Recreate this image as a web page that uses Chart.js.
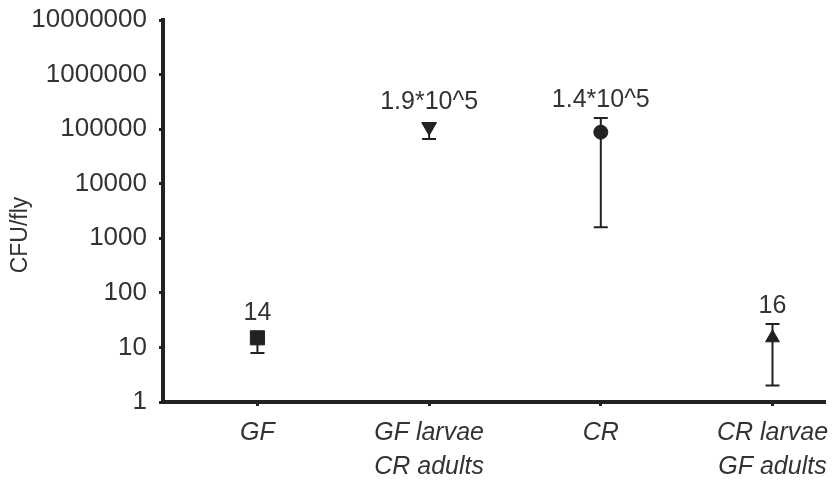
<!DOCTYPE html>
<html>
<head>
<meta charset="utf-8">
<script src="https://cdn.jsdelivr.net/npm/chart.js@4.4.1/dist/chart.umd.min.js"></script>
<style>
  html, body { margin: 0; padding: 0; background: #fff; }
  #wrap { width: 835px; height: 486px; }
</style>
</head>
<body>
<div id="wrap"><canvas id="chart" width="835" height="486"></canvas></div>
<script>
// data
const categories = [['GF'], ['GF larvae', 'CR adults'], ['CR'], ['CR larvae', 'GF adults']];
const means  = [15, 110000, 88000, 15];
const lowers = [7.9, 66000, 1600, 2];
const uppers = [19, 130000, 160000, 27];
const valueLabels = ['14', '1.9*10^5', '1.4*10^5', '16'];
const markers = ['rect', 'triangle', 'circle', 'triangle'];
const markerTurn = [0, 180, 0, 0];
const yTicks = [1, 10, 100, 1000, 10000, 100000, 1000000, 10000000];
const yTitle = 'CFU/fly';

const ink = '#222';
const textInk = '#333';
const fontFam = '"Liberation Sans", Arial, sans-serif';

// error bars behind the markers, value labels and y title on top
const errorBars = {
    id: 'errorBars',
    beforeDatasetsDraw(chart) {
        const ctx = chart.ctx;
        const xs = chart.scales.x, ys = chart.scales.y;
        ctx.save();
        ctx.strokeStyle = ink;
        ctx.lineWidth = 2;
        means.forEach((m, i) => {
            const x = xs.getPixelForValue(i);
            const yl = ys.getPixelForValue(lowers[i]);
            const yu = ys.getPixelForValue(uppers[i]);
            ctx.beginPath();
            ctx.moveTo(x, yl); ctx.lineTo(x, yu);
            ctx.moveTo(x - 7, yl); ctx.lineTo(x + 7, yl);
            ctx.moveTo(x - 7, yu); ctx.lineTo(x + 7, yu);
            ctx.stroke();
        });
        ctx.restore();
    },
    afterDatasetsDraw(chart) {
        const ctx = chart.ctx;
        const xs = chart.scales.x, ys = chart.scales.y;
        ctx.save();
        ctx.fillStyle = textInk;
        ctx.font = '25px ' + fontFam;
        ctx.textAlign = 'center';
        ctx.textBaseline = 'bottom';
        valueLabels.forEach((t, i) => {
            const x = xs.getPixelForValue(i);
            const top = Math.min(ys.getPixelForValue(uppers[i]), ys.getPixelForValue(means[i]) - 7);
            ctx.fillText(t, x, top - 5);
        });
        // y axis title
        ctx.font = '23px ' + fontFam;
        ctx.textBaseline = 'middle';
        ctx.translate(21, 235);
        ctx.rotate(-Math.PI / 2);
        ctx.fillText(yTitle, 0, 0);
        ctx.restore();
    }
};

const ctx = document.getElementById('chart').getContext('2d');
new Chart(ctx, {
    type: 'scatter',
    data: {
        datasets: [{
            data: means.map((m, i) => ({ x: i, y: m })),
            pointStyle: markers,
            rotation: markerTurn,
            pointRadius: [10, 8.5, 7, 8],
            backgroundColor: ink,
            borderColor: ink,
            borderWidth: 1
        }]
    },
    options: {
        responsive: false,
        animation: false,
        events: [],
        layout: { padding: { top: 20, right: 10, left: 0, bottom: 0 } },
        plugins: { legend: { display: false }, tooltip: { enabled: false } },
        scales: {
            x: {
                type: 'linear',
                min: -0.55,
                max: 3.3,
                afterBuildTicks: s => { s.ticks = categories.map((c, i) => ({ value: i })); },
                afterFit: s => { s.height = 84; s.paddingLeft = 0; s.paddingRight = 0; },
                border: { display: true, width: 4, color: ink },
                grid: { display: true, drawOnChartArea: false, tickLength: 4, lineWidth: 3, color: ink },
                ticks: {
                    color: textInk,
                    padding: 10,
                    autoSkip: false,
                    maxRotation: 0,
                    font: { family: fontFam, size: 25, style: 'italic', lineHeight: 1.36 },
                    callback: v => categories[v]
                }
            },
            y: {
                type: 'logarithmic',
                min: 1,
                max: 10000000,
                afterBuildTicks: s => { s.ticks = yTicks.map(v => ({ value: v })); },
                afterFit: s => { s.width = 163; s.paddingTop = 0; s.paddingBottom = 0; },
                border: { display: true, width: 4, color: ink },
                grid: { display: true, drawOnChartArea: false, tickLength: 4, lineWidth: 3, color: ink },
                ticks: {
                    color: textInk,
                    padding: 12,
                    font: { family: fontFam, size: 26 },
                    callback: v => String(v)
                }
            }
        }
    },
    plugins: [errorBars]
});
</script>
</body>
</html>
